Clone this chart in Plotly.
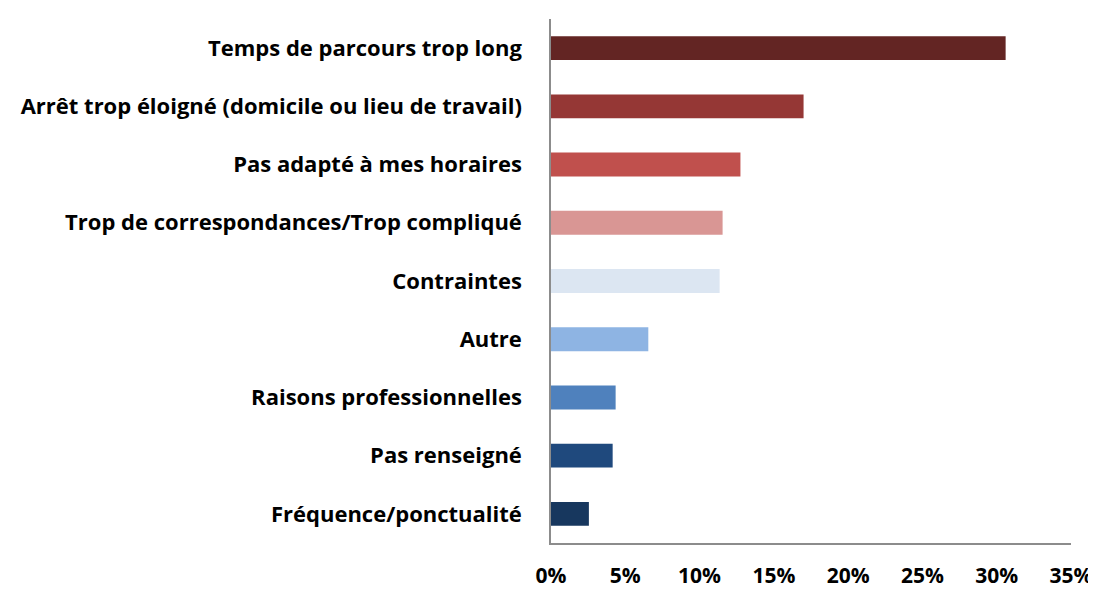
import plotly.graph_objects as go

categories = [
    "Temps de parcours trop long",
    "Arrêt trop éloigné (domicile ou lieu de travail)",
    "Pas adapté à mes horaires",
    "Trop de correspondances/Trop compliqué",
    "Contraintes",
    "Autre",
    "Raisons professionnelles",
    "Pas renseigné",
    "Fréquence/ponctualité",
]
values = [30.6, 17.0, 12.75, 11.55, 11.35, 6.55, 4.35, 4.15, 2.55]
colors = ["#632523", "#953735", "#C0504D", "#D99694", "#DCE6F2",
          "#8EB4E3", "#4F81BD", "#1F497D", "#17375E"]
x_ticks = [0, 5, 10, 15, 20, 25, 30, 35]
x_tick_labels = ["0%", "5%", "10%", "15%", "20%", "25%", "30%", "35%"]

fig = go.Figure(go.Bar(
    x=values, y=categories, orientation="h",
    marker=dict(color=colors, line=dict(width=0)),
    width=0.41,
))

fam = "Open Sans, Noto Sans, sans-serif"

fig.update_layout(
    width=1096, height=592,
    margin=dict(l=543, r=29, t=11, b=45),
    paper_bgcolor="white", plot_bgcolor="white",
    showlegend=False,
    font=dict(family=fam, size=22, color="#000000"),
    xaxis=dict(
        range=[0, 35], tickvals=x_ticks, ticktext=x_tick_labels,
        showgrid=False, zeroline=False,
        showline=True, linecolor="#8C8C8C", linewidth=1.5,
        ticks="", ticklabelstandoff=13,
        tickfont=dict(family=fam, size=21, color="#000000", weight="bold"),
        fixedrange=True,
    ),
    yaxis=dict(
        autorange="reversed", showgrid=False, zeroline=False,
        showline=True, linecolor="#8C8C8C", linewidth=1.5,
        ticks="", ticklabelstandoff=23,
        tickfont=dict(family=fam, size=22, color="#000000", weight="bold"),
        fixedrange=True,
    ),
)

fig.write_html("out.html")
